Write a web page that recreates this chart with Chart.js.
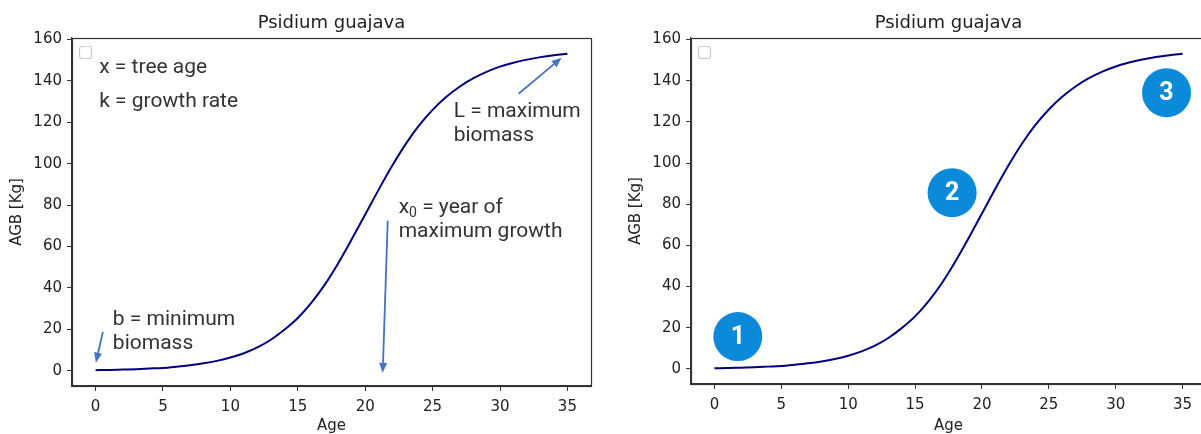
<!DOCTYPE html>
<html>
<head>
<meta charset="utf-8">
<script src="https://cdn.jsdelivr.net/npm/chart.js@4/dist/chart.umd.min.js"></script>
<style>
  html, body { margin: 0; padding: 0; background: #fff; overflow: hidden; }
  body { width: 1201px; height: 434px; position: relative; }
  canvas { position: absolute; top: 0; }
  #left-chart { left: 0; }
  #right-chart { left: 600px; }
</style>
</head>
<body>
<canvas id="left-chart" width="600" height="434"></canvas>
<canvas id="right-chart" width="620" height="434"></canvas>
<script>
const chartTitle = 'Psidium guajava';
const ages = [0, 1, 2, 3, 4, 5, 6, 7, 8, 9, 10, 11, 12, 13, 14, 15, 16, 17,
  18, 19, 20, 21, 22, 23, 24, 25, 26, 27, 28, 29, 30, 31, 32, 33, 34, 35];
const agb = [0.3, 0.4, 0.6, 0.8, 1.1, 1.4, 2.0, 2.7, 3.6, 4.8, 6.4, 8.5, 11.3,
  15.0, 19.8, 25.5, 32.8, 41.6, 52.0, 63.5, 75.5, 87.5, 99.0, 109.5, 118.5,
  126.0, 132.2, 137.2, 141.2, 144.4, 146.9, 148.8, 150.3, 151.5, 152.4, 153.1];
const xTicks = [0, 5, 10, 15, 20, 25, 30, 35];
const yTicks = [0, 20, 40, 60, 80, 100, 120, 140, 160];

const LINE_COLOR = '#000080';
const AXIS_COLOR = '#333333';
const TEXT_COLOR = '#222222';
const ARROW_COLOR = '#4472c4';
const BADGE_COLOR = '#0a8ad9';
const NOTE_FONT = '400 21px Roboto, "Open Sans", sans-serif';

// annotations for the left panel, placed in data units
const leftNotes = [
  { lines: ['x = tree age'], x: 0.27, y: 146.4 },
  { lines: ['k = growth rate'], x: 0.27, y: 130.0 },
  { lines: ['b = minimum', 'biomass'], x: 1.28, y: 24.6 },
  { lines: ['L = maximum', 'biomass'], x: 26.56, y: 125.1 },
  { lines: ['x0 = year of', 'maximum growth'], x: 22.48, y: 78.7 },
];
const leftArrows = [
  { from: [0.54, 18.8], to: [0.02, 3.9] },
  { from: [31.38, 133.8], to: [34.57, 151.2] },
  { from: [21.67, 72.5], to: [21.3, -1.0] },
];
const rightBadges = [
  { label: '1', x: 1.75, y: 15.7 },
  { label: '2', x: 17.77, y: 85.6 },
  { label: '3', x: 33.8, y: 134.2 },
];

function drawNoteLine(ctx, text, x, y) {
  if (text.startsWith('x0')) {
    ctx.fillText('x', x, y);
    const w = ctx.measureText('x').width;
    ctx.save();
    ctx.font = '400 14px Roboto, "Open Sans", sans-serif';
    ctx.fillText('0', x + w, y + 6);
    const w0 = ctx.measureText('0').width;
    ctx.restore();
    ctx.fillText(text.slice(2), x + w + w0, y);
  } else {
    ctx.fillText(text, x, y);
  }
}

function drawArrow(ctx, x1, y1, x2, y2) {
  const ang = Math.atan2(y2 - y1, x2 - x1);
  const head = 10;
  const half = 4;
  const bx = x2 - head * Math.cos(ang);
  const by = y2 - head * Math.sin(ang);
  ctx.strokeStyle = ARROW_COLOR;
  ctx.fillStyle = ARROW_COLOR;
  ctx.lineWidth = 1.8;
  ctx.beginPath();
  ctx.moveTo(x1, y1);
  ctx.lineTo(bx, by);
  ctx.stroke();
  ctx.beginPath();
  ctx.moveTo(x2, y2);
  ctx.lineTo(bx + half * Math.sin(ang), by - half * Math.cos(ang));
  ctx.lineTo(bx - half * Math.sin(ang), by + half * Math.cos(ang));
  ctx.closePath();
  ctx.fill();
}

const framePlugin = {
  id: 'frame',
  afterDraw(chart) {
    const { ctx, chartArea: a } = chart;
    ctx.save();
    ctx.strokeStyle = AXIS_COLOR;
    ctx.lineWidth = 1.2;
    ctx.strokeRect(Math.round(a.left) + 0.5, Math.round(a.top) + 0.5,
      Math.round(a.right - a.left), Math.round(a.bottom - a.top));
    // empty legend box
    ctx.strokeStyle = '#cccccc';
    ctx.lineWidth = 1.2;
    ctx.beginPath();
    ctx.roundRect(a.left + 7.5, a.top + 8.5, 12, 12, 2.5);
    ctx.stroke();
    // title centred over the plot area
    ctx.fillStyle = TEXT_COLOR;
    ctx.font = '18px "DejaVu Sans"';
    ctx.textAlign = 'center';
    ctx.textBaseline = 'alphabetic';
    ctx.fillText(chartTitle, (a.left + a.right) / 2, 28);
    ctx.restore();
  },
};

const leftNotesPlugin = {
  id: 'leftNotes',
  afterDatasetsDraw(chart) {
    const { ctx, scales: { x, y } } = chart;
    ctx.save();
    ctx.fillStyle = '#333333';
    ctx.font = NOTE_FONT;
    ctx.textAlign = 'left';
    ctx.textBaseline = 'middle';
    leftNotes.forEach((n) => {
      n.lines.forEach((line, i) => {
        drawNoteLine(ctx, line, x.getPixelForValue(n.x), y.getPixelForValue(n.y) + i * 24);
      });
    });
    leftArrows.forEach((a) => {
      drawArrow(ctx, x.getPixelForValue(a.from[0]), y.getPixelForValue(a.from[1]),
        x.getPixelForValue(a.to[0]), y.getPixelForValue(a.to[1]));
    });
    ctx.restore();
  },
};

const badgesPlugin = {
  id: 'badges',
  afterDatasetsDraw(chart) {
    const { ctx, scales: { x, y } } = chart;
    ctx.save();
    rightBadges.forEach((b) => {
      const cx = x.getPixelForValue(b.x);
      const cy = y.getPixelForValue(b.y);
      ctx.fillStyle = BADGE_COLOR;
      ctx.beginPath();
      ctx.arc(cx, cy, 24.5, 0, Math.PI * 2);
      ctx.fill();
      ctx.fillStyle = '#ffffff';
      ctx.font = 'bold 25px Roboto, sans-serif';
      ctx.textAlign = 'center';
      ctx.textBaseline = 'middle';
      ctx.fillText(b.label, cx, cy + 1);
    });
    ctx.restore();
  },
};

function buildChart(canvasId, geom, extraPlugin) {
  const points = ages.map((a, i) => ({ x: a, y: agb[i] }));
  return new Chart(document.getElementById(canvasId), {
    type: 'line',
    data: {
      datasets: [{
        data: points,
        borderColor: LINE_COLOR,
        borderWidth: 2,
        pointRadius: 0,
        cubicInterpolationMode: 'monotone',
        fill: false,
      }],
    },
    options: {
      responsive: false,
      animation: false,
      devicePixelRatio: 1,
      layout: { padding: { top: 38, right: geom.padRight, left: 0, bottom: 0 } },
      plugins: {
        legend: { display: false },
        title: { display: false },
        tooltip: { enabled: false },
      },
      scales: {
        x: {
          type: 'linear',
          min: -1.75,
          max: 36.75,
          afterBuildTicks: (s) => { s.ticks = xTicks.map((v) => ({ value: v })); },
          afterFit: (s) => { s.height = geom.xAxisHeight; },
          grid: { drawOnChartArea: false, drawTicks: true, tickLength: 5, color: AXIS_COLOR },
          border: { display: true, color: AXIS_COLOR, width: 1.2 },
          ticks: {
            color: TEXT_COLOR,
            font: { family: 'DejaVu Sans', size: 15 },
            padding: 7,
            maxRotation: 0,
          },
          title: {
            display: true,
            text: 'Age',
            color: TEXT_COLOR,
            font: { family: 'DejaVu Sans', size: 15, lineHeight: 1 },
            padding: { top: geom.xTitlePad, bottom: 0 },
          },
        },
        y: {
          type: 'linear',
          min: -7.34,
          max: 160.74,
          afterBuildTicks: (s) => { s.ticks = yTicks.map((v) => ({ value: v })); },
          afterFit: (s) => { s.width = geom.yAxisWidth; },
          grid: { drawOnChartArea: false, drawTicks: true, tickLength: 5, color: AXIS_COLOR },
          border: { display: true, color: AXIS_COLOR, width: 1.2 },
          ticks: {
            color: TEXT_COLOR,
            font: { family: 'DejaVu Sans', size: 15 },
            padding: 5,
          },
          title: {
            display: true,
            text: 'AGB [Kg]',
            color: TEXT_COLOR,
            font: { family: 'DejaVu Sans', size: 15, lineHeight: 1 },
            padding: { top: geom.yTitlePad, bottom: 0 },
          },
        },
      },
    },
    plugins: [framePlugin, extraPlugin],
  });
}

buildChart('left-chart', { padRight: 9, xAxisHeight: 48, yAxisWidth: 72, xTitlePad: 0, yTitlePad: 10 }, leftNotesPlugin);
buildChart('right-chart', { padRight: 14, xAxisHeight: 50, yAxisWidth: 91, xTitlePad: 3, yTitlePad: 29 }, badgesPlugin);
</script>
</body>
</html>
